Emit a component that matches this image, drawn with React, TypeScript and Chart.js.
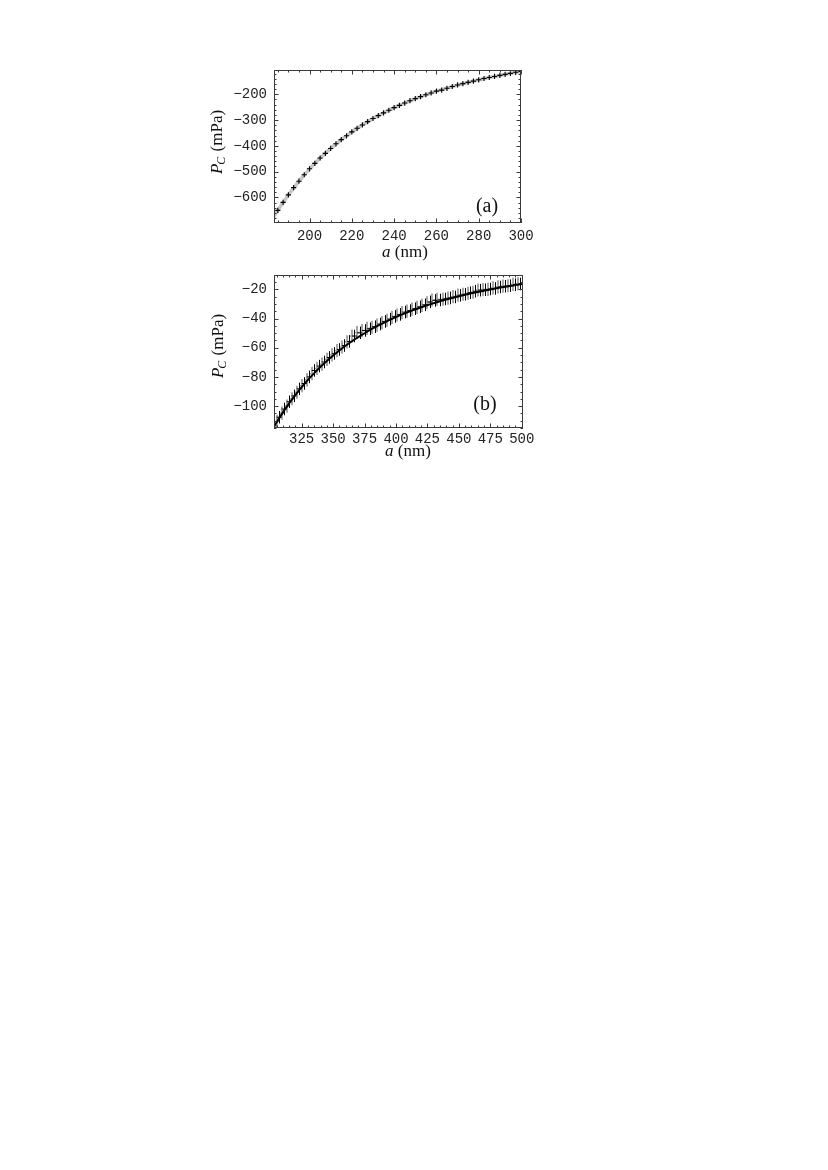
import React, { useEffect, useRef } from "react";
import { Chart, registerables } from "chart.js";

Chart.register(...registerables);

// ---------- Panel (a) data ----------
const A_DATA_X = [
  185, 187.5, 190, 192.5, 195, 197.5, 200, 202.5, 205, 207.5, 210, 212.5, 215, 217.5, 220, 222.5,
  225, 227.5, 230, 232.5, 235, 237.5, 240, 242.5, 245, 247.5, 250, 252.5, 255, 257.5, 260, 262.5,
  265, 267.5, 270, 272.5, 275, 277.5, 280, 282.5, 285, 287.5, 290, 292.5, 295, 297.5, 300,
];
const A_DATA_Y = [
  -650, -619, -590, -562, -537, -512, -489, -468, -447, -429, -410, -392, -376, -361, -346, -332,
  -319, -306, -294, -283, -272, -262, -252, -243, -234, -225, -217, -209, -202, -195, -188, -184,
  -177, -170, -164, -159, -154, -149, -144, -139, -135, -131, -127, -123, -119, -115, -112,
];
const A_THEORY_X = [
  183, 185, 190, 195, 200, 205, 210, 215, 220, 225, 230, 235, 240, 245, 250, 255, 260, 265, 270,
  275, 280, 285, 290, 295, 300,
];
const A_THEORY_Y = [
  -676, -650, -590, -537, -489, -447, -410, -376, -346, -319, -294, -272, -252, -234, -217, -202,
  -188, -176, -164, -154, -144, -135, -127, -119, -112,
];
const A_X_TICKS = [200, 220, 240, 260, 280, 300];
const A_Y_TICKS = [-600, -500, -400, -300, -200];

// ---------- Panel (b) data ----------
const B_BLACK_X = [
  303, 307, 311, 315, 319, 323, 327, 331, 335, 339, 343, 347, 351, 355, 359, 363, 367, 371, 375,
  379, 383, 387, 391, 395, 399, 403, 407, 411, 415, 419, 423, 427, 431, 435, 439, 443, 447, 451,
  455, 459, 463, 467, 471, 475, 479, 483, 487, 491, 495, 499,
];
const B_BLACK_Y = [
  -113.5, -107.6, -102.0, -97.0, -93.0, -88.2, -84.5, -80.0, -75.6, -72.6, -69.8, -66.7, -63.9,
  -61.2, -58.5, -55.7, -52.0, -49.8, -48.2, -47.0, -45.6, -43.8, -42.0, -40.4, -38.6, -37.2,
  -35.6, -34.6, -33.3, -32.0, -30.6, -28.6, -27.6, -27.3, -26.6, -25.9, -25.2, -24.1, -23.4,
  -22.3, -21.3, -20.6, -20.3, -19.8, -19.4, -18.4, -17.9, -17.5, -16.9, -16.4,
];
const B_GRAY_X = [
  305, 309, 313, 317, 321, 325, 329, 333, 337, 341, 345, 349, 353, 357, 361, 365, 369, 373, 377,
  381, 385, 389, 393, 397, 401, 405, 409, 413, 417, 421, 425, 429, 433, 437, 441, 445, 449, 453,
  457, 461, 465, 469, 473, 477, 481, 485, 489, 493, 497,
];
const B_GRAY_Y = [
  -110.5, -104.8, -100.0, -95.0, -90.5, -86.0, -82.0, -77.8, -74.2, -71.2, -68.0, -64.9, -62.0,
  -59.5, -56.0, -52.0, -49.6, -48.3, -46.8, -46.0, -44.5, -42.8, -41.2, -39.2, -37.6, -36.0,
  -34.9, -33.6, -32.4, -31.0, -29.2, -27.3, -26.8, -26.8, -26.0, -25.0, -24.0, -23.4, -22.7,
  -22.0, -20.5, -20.2, -20.0, -19.0, -18.3, -17.8, -17.6, -16.6, -16.2,
];
const B_THEORY_X = [
  303, 307, 311, 315, 319, 323, 327, 331, 335, 339, 343, 347, 351, 355, 359, 363, 367, 371, 375,
  379, 383, 387, 391, 395, 399, 403, 407, 411, 415, 419, 423, 427, 431, 435, 439, 443, 447, 451,
  455, 459, 463, 467, 471, 475, 479, 483, 487, 491, 495, 499, 501,
];
const B_THEORY_Y = [
  -114.0, -108.4, -103.1, -98.1, -93.5, -89.1, -84.9, -81.0, -77.4, -73.9, -70.6, -67.5, -64.6,
  -61.9, -59.2, -56.8, -54.4, -52.2, -50.1, -48.0, -46.1, -44.3, -42.6, -41.0, -39.4, -37.9,
  -36.5, -35.1, -33.8, -32.6, -31.4, -30.3, -29.2, -28.2, -27.2, -26.3, -25.4, -24.6, -23.7,
  -22.9, -22.2, -21.5, -20.8, -20.1, -19.5, -18.8, -18.3, -17.7, -17.1, -16.6, -16.4,
];
const B_BLACK_ERR = 4.3;
const B_GRAY_ERR = 4.5;
const B_X_TICKS = [325, 350, 375, 400, 425, 450, 475, 500];
const B_Y_TICKS = [-100, -80, -60, -40, -20];

const zip = (xs: number[], ys: number[]) => xs.map((x, i) => ({ x, y: ys[i] }));

const FRAME = "#3a3a3a";
const TICK_FONT = { family: "'Liberation Mono', 'DejaVu Sans Mono', monospace", size: 14 };
const SERIF = "'Liberation Serif', 'DejaVu Serif', serif";
const fmt = (v: number) => (v < 0 ? "\u2212" + Math.abs(v) : String(v));

type Spec = {
  left: number;
  top: number;
  w: number;
  h: number;
  area: { l: number; r: number; t: number; b: number };
  xMin: number;
  xMax: number;
  yMin: number;
  yMax: number;
  xTicks: number[];
  yTicks: number[];
  xMinor: number;
  yMinor: number;
  xPad: number;
  label: string;
  labelPos: [number, number];
  xTitlePos: [number, number];
  yTitlePos: [number, number];
  datasets: any[];
};

const SPEC_A: Spec = {
  left: 180,
  top: 45,
  w: 360,
  h: 220,
  area: { l: 274, r: 521, t: 70, b: 223 },
  xMin: 183.2,
  xMax: 300,
  yMin: -699,
  yMax: -106,
  xTicks: A_X_TICKS,
  yTicks: A_Y_TICKS,
  xMinor: 5,
  yMinor: 20,
  xPad: 5,
  label: "(a)",
  labelPos: [487, 207],
  xTitlePos: [405, 253],
  yTitlePos: [218, 142],
  datasets: [
    {
      label: "data",
      data: zip(A_DATA_X, A_DATA_Y),
      pointStyle: "cross",
      pointRadius: 2.6,
      borderColor: "#000",
      backgroundColor: "#000",
      borderWidth: 1.1,
      order: 0,
    },
    {
      label: "theory",
      data: zip(A_THEORY_X, A_THEORY_Y),
      showLine: true,
      pointRadius: 0,
      borderColor: "#c6c6c6",
      borderWidth: 3.5,
      order: 1,
    },
  ],
};

const SPEC_B: Spec = {
  left: 180,
  top: 250,
  w: 360,
  h: 220,
  area: { l: 274, r: 523, t: 275, b: 428 },
  xMin: 303,
  xMax: 501,
  yMin: -115,
  yMax: -10.2,
  xTicks: B_X_TICKS,
  yTicks: B_Y_TICKS,
  xMinor: 5,
  yMinor: 5,
  xPad: 3,
  label: "(b)",
  labelPos: [485, 405],
  xTitlePos: [408, 452],
  yTitlePos: [219, 346],
  datasets: [
    {
      label: "data gray",
      data: zip(B_GRAY_X, B_GRAY_Y),
      pointStyle: "line",
      pointRadius: 2.5,
      borderColor: "#9a9a9a",
      borderWidth: 1.5,
      errors: B_GRAY_ERR,
      errColor: "#a8a8a8",
      errWidth: 2,
      order: 2,
    },
    {
      label: "theory",
      data: zip(B_THEORY_X, B_THEORY_Y),
      showLine: true,
      pointRadius: 0,
      borderColor: "#000",
      borderWidth: 2,
      order: 1,
    },
    {
      label: "data black",
      data: zip(B_BLACK_X, B_BLACK_Y),
      pointStyle: "line",
      pointRadius: 2.5,
      borderColor: "#000",
      borderWidth: 1,
      errors: B_BLACK_ERR,
      errColor: "#000",
      errWidth: 1,
      order: 0,
    },
  ],
};

function minorValues(min: number, max: number, step: number) {
  const out: number[] = [];
  for (let v = Math.ceil(min / step) * step; v <= max + 1e-9; v += step) out.push(v);
  return out;
}

function makeChart(canvas: HTMLCanvasElement, s: Spec) {
  const framePlugin = {
    id: "mmaFrame",
    afterDatasetDraw(chart: any, args: any) {
      const ds = chart.data.datasets[args.index];
      if (ds.errors === undefined) return;
      const { ctx, chartArea: ca } = chart;
      const sx = chart.scales.x;
      const sy = chart.scales.y;
      ctx.save();
      ctx.beginPath();
      ctx.rect(ca.left, ca.top, ca.right - ca.left, ca.bottom - ca.top);
      ctx.clip();
      ctx.beginPath();
      ctx.strokeStyle = ds.errColor;
      ctx.lineWidth = ds.errWidth;
      const off = ds.errWidth % 2 === 1 ? 0.5 : 0;
      ds.data.forEach((p: any) => {
        const x = Math.round(sx.getPixelForValue(p.x)) + off;
        ctx.moveTo(x, sy.getPixelForValue(p.y - ds.errors));
        ctx.lineTo(x, sy.getPixelForValue(p.y + ds.errors));
      });
      ctx.stroke();
      ctx.restore();
    },
    afterDatasetsDraw(chart: any) {
      const { ctx, chartArea: ca } = chart;
      const sx = chart.scales.x;
      const sy = chart.scales.y;
      ctx.save();
      ctx.strokeStyle = FRAME;
      ctx.lineWidth = 1;
      ctx.strokeRect(ca.left + 0.5, ca.top + 0.5, ca.right - ca.left - 1, ca.bottom - ca.top - 1);
      ctx.beginPath();
      const major = 4.5;
      const minor = 2.5;
      const xt = (v: number, len: number) => {
        if (v < s.xMin || v > s.xMax) return;
        const px = Math.round(sx.getPixelForValue(v)) + 0.5;
        ctx.moveTo(px, ca.bottom);
        ctx.lineTo(px, ca.bottom - len);
        ctx.moveTo(px, ca.top);
        ctx.lineTo(px, ca.top + len);
      };
      const yt = (v: number, len: number) => {
        if (v < s.yMin || v > s.yMax) return;
        const py = Math.round(sy.getPixelForValue(v)) + 0.5;
        ctx.moveTo(ca.left, py);
        ctx.lineTo(ca.left + len, py);
        ctx.moveTo(ca.right, py);
        ctx.lineTo(ca.right - len, py);
      };
      minorValues(s.xMin, s.xMax, s.xMinor).forEach((v) => xt(v, s.xTicks.includes(v) ? major : minor));
      minorValues(s.yMin, s.yMax, s.yMinor).forEach((v) => yt(v, s.yTicks.includes(v) ? major : minor));
      ctx.stroke();
      ctx.restore();
    },
    afterDraw(chart: any) {
      const { ctx } = chart;
      ctx.save();
      ctx.fillStyle = "#111";
      ctx.textBaseline = "middle";
      // x title: a (nm)
      {
        const [cx, cy] = s.xTitlePos;
        const f1 = `italic 17px ${SERIF}`;
        const f2 = `17px ${SERIF}`;
        ctx.font = f1;
        const w1 = ctx.measureText("a").width;
        ctx.font = f2;
        const w2 = ctx.measureText(" (nm)").width;
        let x = cx - s.left - (w1 + w2) / 2;
        const y = cy - s.top;
        ctx.textAlign = "left";
        ctx.font = f1;
        ctx.fillText("a", x, y);
        x += w1;
        ctx.font = f2;
        ctx.fillText(" (nm)", x, y);
      }
      // y title: P_C (mPa), rotated
      {
        const [cx, cy] = s.yTitlePos;
        ctx.save();
        ctx.translate(cx - s.left, cy - s.top);
        ctx.rotate(-Math.PI / 2);
        const fP = `italic 17px ${SERIF}`;
        const fC = `italic 12px ${SERIF}`;
        const fR = `17px ${SERIF}`;
        ctx.font = fP;
        const wP = ctx.measureText("P").width;
        ctx.font = fC;
        const wC = ctx.measureText("C").width;
        ctx.font = fR;
        const wR = ctx.measureText(" (mPa)").width;
        let x = -(wP + wC + wR) / 2;
        ctx.textAlign = "left";
        ctx.font = fP;
        ctx.fillText("P", x, 0);
        x += wP - 1;
        ctx.font = fC;
        ctx.fillText("C", x, 4);
        x += wC + 1;
        ctx.font = fR;
        ctx.fillText(" (mPa)", x, 0);
        ctx.restore();
      }
      // panel label
      ctx.font = `20px ${SERIF}`;
      ctx.textAlign = "center";
      ctx.fillText(s.label, s.labelPos[0] - s.left, s.labelPos[1] - s.top);
      ctx.restore();
    },
  };

  return new Chart(canvas, {
    type: "scatter",
    data: { datasets: s.datasets },
    options: {
      responsive: false,
      animation: false,
      devicePixelRatio: 1,
      layout: {
        padding: {
          top: s.area.t - s.top,
          right: s.left + s.w - s.area.r,
          left: 0,
          bottom: 0,
        },
      },
      plugins: { legend: { display: false }, tooltip: { enabled: false } },
      scales: {
        x: {
          type: "linear",
          position: "bottom",
          min: s.xMin,
          max: s.xMax,
          grid: { display: false, drawTicks: false },
          border: { display: false },
          ticks: {
            font: TICK_FONT,
            color: "#222",
            padding: s.xPad,
            maxRotation: 0,
            autoSkip: false,
            includeBounds: false,
            callback: (v: any) => fmt(v),
          },
          afterBuildTicks: (sc: any) => {
            sc.ticks = s.xTicks.map((v) => ({ value: v }));
          },
          afterFit: (sc: any) => {
            sc.height = s.top + s.h - s.area.b;
          },
        },
        y: {
          type: "linear",
          position: "left",
          min: s.yMin,
          max: s.yMax,
          grid: { display: false, drawTicks: false },
          border: { display: false },
          ticks: {
            font: TICK_FONT,
            color: "#222",
            padding: 7,
            autoSkip: false,
            includeBounds: false,
            callback: (v: any) => fmt(v),
          },
          afterBuildTicks: (sc: any) => {
            sc.ticks = s.yTicks.map((v) => ({ value: v }));
          },
          afterFit: (sc: any) => {
            sc.width = s.area.l - s.left;
          },
        },
      },
    } as any,
    plugins: [framePlugin],
  });
}

function Panel({ spec }: { spec: Spec }) {
  const ref = useRef<HTMLCanvasElement>(null);
  useEffect(() => {
    const chart = makeChart(ref.current!, spec);
    return () => chart.destroy();
  }, [spec]);
  return (
    <canvas
      ref={ref}
      width={spec.w}
      height={spec.h}
      style={{ position: "absolute", left: spec.left, top: spec.top, width: spec.w, height: spec.h }}
    />
  );
}

export default function App() {
  return (
    <div>
      <Panel spec={SPEC_A} />
      <Panel spec={SPEC_B} />
    </div>
  );
}
